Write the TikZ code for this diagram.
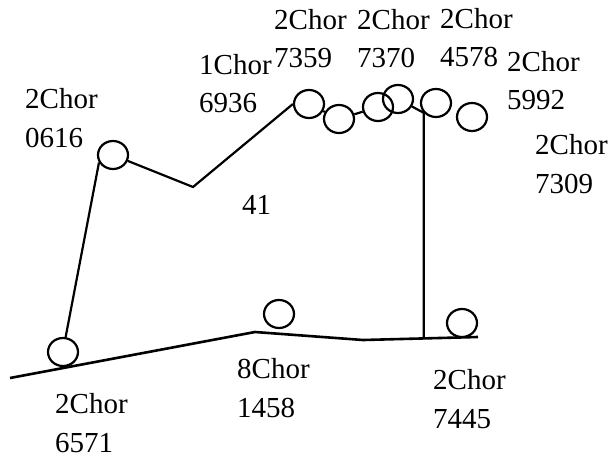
\documentclass[tikz,border=0pt]{standalone}
\usepackage{fontspec}
\setmainfont{Liberation Serif}
\usepackage{tikz}
\usetikzlibrary{shapes.geometric}
\tikzstyle{ring} = [ellipse, minimum width=30pt, minimum height=28pt, inner sep=0pt, draw=black, line width=2.2pt]
\tikzstyle{tag} = [align=left, anchor=base west, inner sep=0pt, font=\fontsize{29}{38.5}\selectfont]
\tikzstyle{wire} = [line width=2.2pt]
\tikzstyle{ground} = [line width=2.6pt]

\begin{document}
\begin{tikzpicture}[x=1pt, y=-1pt]
\useasboundingbox (0,0) rectangle (609,457);

% Rings
\node (c6571) [ring] at (63,352) {};
\node (c0616) [ring] at (113,155) {};
\node (c6936) [ring] at (309,104) {};
\node (c7359) [ring] at (339,119) {};
\node (c7370) [ring] at (378,107) {};
\node (c4578) [ring] at (398,99) {};
\node (c5992) [ring] at (436,103) {};
\node (c7309) [ring] at (472,117) {};
\node (c1458) [ring] at (279,314) {};
\node (c7445) [ring] at (462,323) {};

% Ground points
\coordinate (gl) at (10,378);
\coordinate (peak) at (255,332);
\coordinate (dip) at (363,340);
\coordinate (gr) at (478,337);
\coordinate (bend) at (193,187);
\coordinate (foot) at (425,338);

% Labels (placed at the baseline of the last line)
\node (t7359) [tag] at (274,68) {2Chor\\7359};
\node (t7370) [tag] at (357,68) {2Chor\\7370};
\node (t4578) [tag] at (440,67) {2Chor\\4578};
\node (t5992) [tag] at (507,110) {2Chor\\5992};
\node (t7309) [tag] at (535,193) {2Chor\\7309};
\node (t0616) [tag] at (25,147) {2Chor\\0616};
\node (t6936) [tag] at (199,113) {1Chor\\6936};
\node (t41) [tag] at (242,214) {41};
\node (t6571) [tag] at (55,452) {2Chor\\6571};
\node (t1458) [tag] at (237,417) {8Chor\\1458};
\node (t7445) [tag] at (433,428) {2Chor\\7445};

% Wires
\draw [wire] (c6571.80) -- (c0616.208);
\draw [wire] (c0616) -- (bend) -- (c6936.west);
\draw [wire] (c6936) -- (c7359);
\draw [wire] (c7359) -- (c7370);
\draw [wire] (c4578) -- (c5992.219) -- (c5992.219 |- foot);
\draw [ground] (gl) -- (peak) -- (dip) -- (gr);

\end{tikzpicture}
\end{document}
